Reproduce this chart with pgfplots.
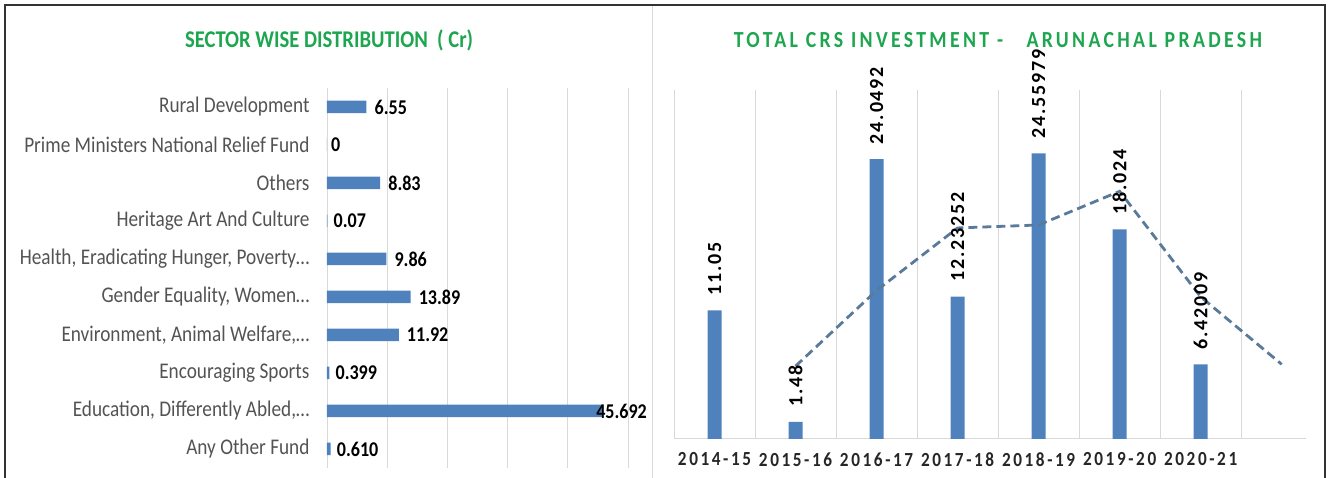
\documentclass[border=0pt]{standalone}
\usepackage{fontspec}
\setmainfont{Carlito}
\newfontfamily\calN[FakeStretch=0.86]{Carlito}
\newfontfamily\calT[FakeStretch=0.86,LetterSpace=14.5]{Carlito}
\newfontfamily\calX[FakeStretch=0.86,LetterSpace=13]{Carlito}
\newfontfamily\calV[LetterSpace=9]{Carlito}
\usepackage{pgfplots}
\usepackage{pgfplotstable}
\pgfplotsset{compat=1.18}
\definecolor{barblue}{HTML}{4F81BD}
\definecolor{titlegreen}{HTML}{1DA64F}
\definecolor{labgrey}{HTML}{535353}
\definecolor{gridgrey}{HTML}{D9D9D9}
\definecolor{trend}{HTML}{5A7A99}

\pgfplotstableread{
i v lab dx
0 0.610 0.610 6
1 45.692 45.692 -6
2 0.399 0.399 6
3 11.92 11.92 8
4 13.89 13.89 8
5 9.86 9.86 8
6 0.07 0.07 6
7 8.83 8.83 8
8 0 0 4
9 6.55 6.55 8
}\sectortable

\pgfplotstableread{
x v lab
0 11.05 11.05
1 1.48 1.48
2 24.0492 24.0492
3 12.23252 12.23252
4 24.55979 24.55979
5 18.024 18.024
6 6.42009 6.42009
}\yeartable

\begin{document}
\begin{tikzpicture}
\path[use as bounding box] (0pt,0pt) rectangle (1328pt,478pt);
% frame
\draw[gridgrey, line width=1pt] (652pt,0pt) -- (652pt,472pt);
\draw[black!80, line width=1.5pt] (5pt,0pt) -- (5pt,473pt) -- (1325pt,473pt) -- (1325pt,0pt);

% titles
\node[text=titlegreen, font=\calN\bfseries\fontsize{24}{26}\selectfont] at (329pt,438pt) {SECTOR WISE DISTRIBUTION\ \ ( Cr)};
\node[text=titlegreen, font=\calT\bfseries\fontsize{23}{25}\selectfont] at (998pt,438pt) {TOTAL CRS INVESTMENT -\ \ \ ARUNACHAL PRADESH};

% left chart
\begin{axis}[
  at={(327pt,10pt)}, anchor=south west,
  scale only axis, width=301pt, height=380pt,
  xmin=0, xmax=50, ymin=-0.5, ymax=9.5,
  xtick={0,10,...,50}, xticklabels={},
  xmajorgrids, grid style={gridgrey, line width=0.8pt},
  ytick={0,...,9},
  yticklabels={Any Other Fund,{Education, Differently Abled,…},Encouraging Sports,{Environment, Animal Welfare,…},{Gender Equality, Women…},{Health, Eradicating Hunger, Poverty…},Heritage Art And Culture,Others,Prime Ministers National Relief Fund,Rural Development},
  axis line style={draw=none}, major tick length=0pt,
  yticklabel style={font=\calN\fontsize{22.4}{24}\selectfont, text=labgrey, xshift=-14pt},
  clip=false,
]
\addplot[xbar, bar width=12.5pt, fill=barblue, draw=none,
  point meta=explicit symbolic,
  visualization depends on={\thisrow{dx} \as \dx},
  nodes near coords,
  nodes near coords style={anchor=west, inner sep=0pt, xshift=\dx pt, text=black, font=\calN\bfseries\fontsize{21}{23}\selectfont},
] table[x=v, y=i, meta=lab] {\sectortable};
\end{axis}

% right chart
\begin{axis}[
  at={(674pt,39pt)}, anchor=south west,
  scale only axis, width=632pt, height=349pt,
  xmin=-0.5, xmax=7.3, ymin=0, ymax=30,
  axis x line*=bottom, axis y line=none,
  x axis line style={gridgrey, line width=1pt, -},
  xtick={0,...,6},
  xticklabels={2014-15,2015-16,2016-17,2017-18,2018-19,2019-20,2020-21},
  minor xtick={-0.5,0.5,...,6.5},
  xminorgrids, minor grid style={gridgrey, line width=0.8pt},
  major tick length=0pt, minor tick length=0pt,
  xticklabel style={font=\calX\bfseries\fontsize{20}{22}\selectfont, text=black!85, yshift=-10pt},
  ytick=\empty,
  clip=false,
]
\addplot[ybar, bar width=14pt, fill=barblue, draw=none,
  point meta=explicit symbolic,
  nodes near coords,
  nodes near coords style={rotate=90, anchor=west, inner ysep=0pt, inner xsep=15pt, text=black, font=\calV\bfseries\fontsize{20}{22}\selectfont},
] table[x=x, y=v, meta=lab] {\yeartable};
\addplot[trend, line width=2.8pt, dash pattern=on 9pt off 5pt] coordinates {
(1,6.265) (2,12.765) (3,18.141) (4,18.396) (5,21.292) (6,12.222) (7,6.42)
};
\end{axis}
\end{tikzpicture}
\end{document}
